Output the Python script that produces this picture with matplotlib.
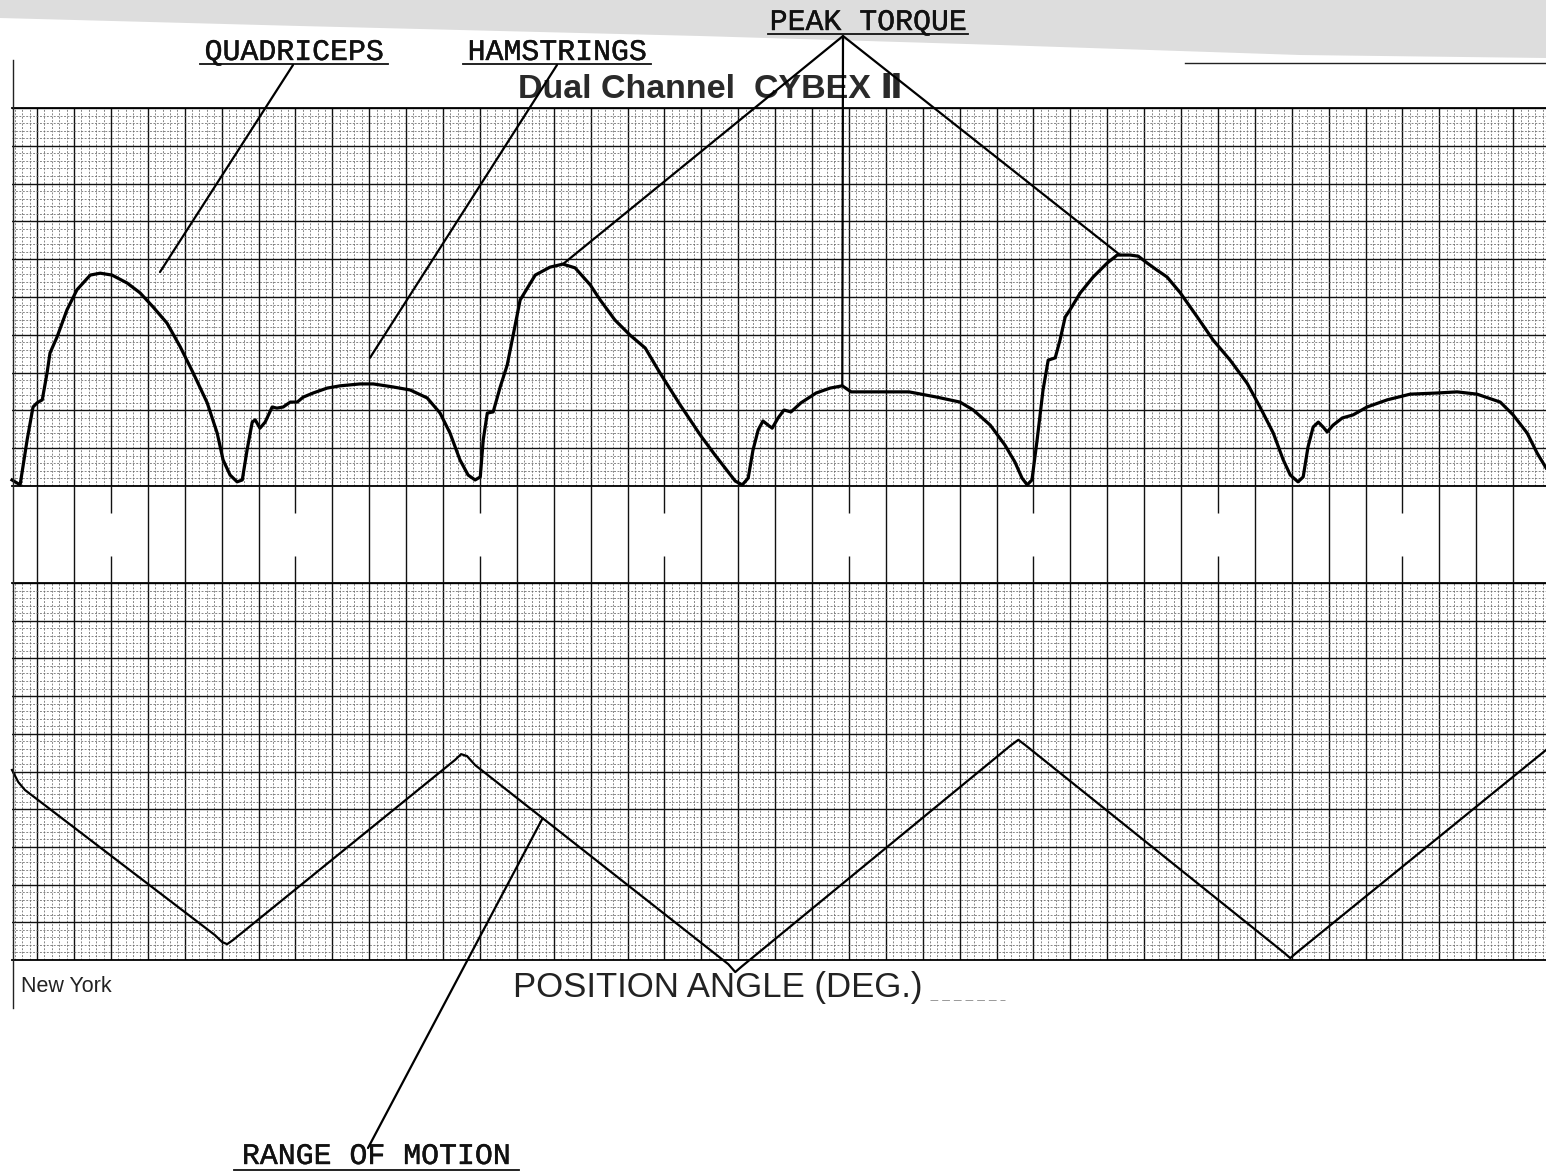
import numpy as np
import matplotlib
matplotlib.use("Agg")
import matplotlib.pyplot as plt
import matplotlib.patheffects as pe

# torque trace (top panel): x in major chart divisions, y in divisions above baseline
torque_x = [-0.68, -0.46, -0.27, -0.11, 0.00, 0.14, 0.27, 0.35, 0.54, 0.81, 1.08, 1.44, 1.71,
            2.03, 2.44, 2.79, 3.14, 3.52, 3.88, 4.23, 4.61, 4.88, 5.04, 5.23, 5.42, 5.56,
            5.69, 5.83, 5.91, 6.04, 6.18, 6.37, 6.50, 6.67, 6.86, 7.05, 7.21, 7.48, 7.86,
            8.21, 8.75, 9.11, 9.65, 10.11, 10.57, 10.92, 11.19, 11.46, 11.68, 11.87, 12.01,
            12.09, 12.20, 12.36, 12.55, 12.74, 13.09, 13.50, 13.90, 14.25, 14.58, 14.99,
            15.26, 15.66, 16.07, 16.48, 16.88, 17.43, 17.97, 18.37, 18.73, 18.92, 19.11,
            19.27, 19.40, 19.54, 19.67, 19.81, 19.92, 20.08, 20.24, 20.43, 20.70, 21.11,
            21.49, 21.82, 22.06, 22.57, 23.63, 24.39, 25.01, 25.37, 25.83, 26.23, 26.50,
            26.69, 26.83, 26.96, 27.10, 27.26, 27.40, 27.59, 27.72, 27.86, 27.99, 28.27,
            28.62, 29.00, 29.27, 29.62, 29.84, 30.08, 30.35, 30.62, 30.98, 31.44, 31.87,
            32.33, 32.79, 33.14, 33.50, 33.77, 33.96, 34.17, 34.31, 34.44, 34.58, 34.72,
            34.85, 34.96, 35.12, 35.37, 35.66, 36.04, 36.59, 37.21, 37.94, 38.48, 39.02,
            39.65, 40.00, 40.38, 40.65, 40.89]
torque_y = [0.16, 0.03, 1.22, 2.09, 2.20, 2.28, 2.99, 3.52, 3.94, 4.66, 5.19, 5.58, 5.63,
            5.58, 5.37, 5.11, 4.74, 4.31, 3.68, 2.99, 2.20, 1.40, 0.69, 0.29, 0.11, 0.16,
            0.95, 1.69, 1.75, 1.53, 1.69, 2.09, 2.06, 2.09, 2.22, 2.22, 2.35, 2.46, 2.59,
            2.65, 2.70, 2.70, 2.62, 2.54, 2.33, 1.93, 1.40, 0.69, 0.29, 0.16, 0.24,
            1.22, 1.93, 1.96, 2.62, 3.20, 4.92, 5.58, 5.79, 5.87, 5.77, 5.32,
            4.92, 4.39, 3.99, 3.65, 2.99, 2.14, 1.35, 0.82, 0.37, 0.13, 0.03,
            0.21, 0.95, 1.48, 1.72, 1.61, 1.53, 1.80, 2.01, 1.96, 2.20, 2.46,
            2.59, 2.65, 2.49, 2.49, 2.49, 2.35, 2.22, 2.01, 1.61, 1.08, 0.63,
            0.21, 0.03, 0.16, 1.22, 2.54, 3.33, 3.39, 3.86, 4.47, 4.66, 5.11,
            5.53, 5.90, 6.11, 6.11, 6.08, 5.90, 5.71, 5.53, 5.11, 4.47, 3.86,
            3.33, 2.72, 2.09, 1.40, 0.69, 0.29, 0.11, 0.24, 1.03, 1.56, 1.69,
            1.56, 1.43, 1.61, 1.80, 1.88, 2.09, 2.28, 2.43, 2.46, 2.49, 2.43,
            2.22, 1.88, 1.40, 0.87, 0.48]

# range of motion trace (bottom panel)
rom_x = [-0.68, -0.51, -0.33, 4.82, 5.01, 5.15, 5.31, 11.33, 11.49, 11.65, 11.87,
         18.73, 18.92, 19.11, 26.37, 26.59, 26.78, 33.77, 33.96, 34.15, 40.89]
rom_y = [5.04, 4.72, 4.51, 0.66, 0.48, 0.42, 0.53, 5.31, 5.46, 5.41, 5.17,
         -0.11, -0.32, -0.16, 5.68, 5.84, 5.70, 0.21, 0.05, 0.21, 5.57]

# where the leader lines touch the traces
quad_tip = (3.33, 5.66)
ham_tip = (9.02, 3.39)
peak_x = [14.25, 21.82, 29.35]
rom_tip_x = 13.7

W, H = 1546, 1176
X0, X1 = -0.68, 40.89

fig = plt.figure(figsize=(W / 100, H / 100), dpi=100)
fig.patch.set_facecolor("white")


def fig_box(left, top, right, bottom):
    return [left / W, 1 - bottom / H, (right - left) / W, (bottom - top) / H]


def paper_grid(ax):
    ax.set_xlim(X0, X1)
    ax.set_ylim(0, 10)
    ax.set_xticks(np.arange(0, 41))
    ax.set_xticks(np.arange(-0.6, 41, 0.2), minor=True)
    ax.set_yticks(np.arange(0, 11))
    ax.set_yticks(np.arange(0, 10.01, 0.2), minor=True)
    ax.grid(which="minor", color="#666666", lw=0.55, ls=(0, (2.5, 2)))
    ax.grid(which="major", color="#111111", lw=1.0)
    ax.tick_params(which="both", length=0, labelbottom=False, labelleft=False)
    for side in ["top", "bottom"]:
        ax.spines[side].set_linewidth(1.3)
    ax.spines["right"].set_visible(False)
    ax.spines["left"].set_visible(False)
    ax.set_axisbelow(True)


ax_top = fig.add_axes(fig_box(12, 108, 1546, 486))
paper_grid(ax_top)
ax_top.plot(torque_x, torque_y, color="black", lw=2.3, solid_joinstyle="round",
            clip_on=False, zorder=3)

ax_bot = fig.add_axes(fig_box(12, 583, 1546, 960))
paper_grid(ax_bot)
ax_bot.plot(rom_x, rom_y, color="black", lw=1.6, solid_joinstyle="round",
            clip_on=False, zorder=3)

# blank strip between the two channels, only the major lines
ax_mid = fig.add_axes(fig_box(12, 486, 1546, 583))
ax_mid.set_xlim(X0, X1)
ax_mid.set_ylim(0, 1)
ax_mid.set_axis_off()
ks = np.arange(0, 41)
full = ks[ks % 5 != 2]
stub = ks[ks % 5 == 2]
ax_mid.vlines(full, 0, 1, color="#111111", lw=1.0)
ax_mid.vlines(stub, 0.0, 0.28, color="#111111", lw=1.0)
ax_mid.vlines(stub, 0.72, 1.0, color="#111111", lw=1.0)

# overlay in pixel space for printed text and hand drawn labels
ov = fig.add_axes([0, 0, 1, 1], zorder=10)
ov.set_xlim(0, W)
ov.set_ylim(H, 0)
ov.set_axis_off()

band_x = np.array([0, 300, 700, 1000, 1300, 1546])
band_y = np.array([18, 26, 36, 45, 55, 58])
ov.fill_between(band_x, 0, band_y, color="#dddddd", lw=0)
ov.plot([12.5, 12.5], [60, 1008], color="#222222", lw=1.0)
ov.plot([1185, 1546], [63, 63], color="#222222", lw=1.0)
ov.plot([930, 1005], [1000, 1000], color="#999999", lw=0.7, ls=(0, (8, 4)))

mono = "Liberation Mono"
thick = [pe.withStroke(linewidth=0.3, foreground="#111111")]
labels = [("QUADRICEPS", 294, 60, 200, 388, 64),
          ("HAMSTRINGS", 557, 60, 463, 651, 64),
          ("PEAK TORQUE", 868, 30, 768, 968, 34),
          ("RANGE OF MOTION", 376, 1164, 234, 519, 1170)]
for txt, cx, base, u0, u1, uy in labels:
    ov.text(cx, base, txt, family=mono, fontsize=21.5, ha="center", va="baseline",
            color="#111111", path_effects=thick)
    ov.plot([u0, u1], [uy, uy], color="#111111", lw=1.3)

ov.text(518, 98, "Dual Channel  CYBEX Ⅱ", family=["Liberation Sans", "DejaVu Sans"],
        fontsize=24.5, fontweight="bold", ha="left", va="baseline", color="#2a2a2a")
ov.text(21, 992, "New York", family="Liberation Sans", fontsize=15.5, ha="left",
        va="baseline", color="#222222")
ov.text(513, 997, "POSITION ANGLE (DEG.)", family="Liberation Sans", fontsize=25,
        ha="left", va="baseline", color="#222222")

# leader lines from the labels to the traces
lead = dict(arrowstyle="-", lw=1.6, color="black", shrinkA=0, shrinkB=0)
ov.annotate("", xy=quad_tip, xycoords=ax_top.transData, xytext=(293, 65),
            textcoords="data", arrowprops=lead, annotation_clip=False)
ov.annotate("", xy=ham_tip, xycoords=ax_top.transData, xytext=(557, 65),
            textcoords="data", arrowprops=lead, annotation_clip=False)
for px in peak_x:
    py = np.interp(px, torque_x, torque_y)
    ov.annotate("", xy=(px, py), xycoords=ax_top.transData, xytext=(843, 36),
                textcoords="data", arrowprops=lead, annotation_clip=False)
ov.annotate("", xy=(rom_tip_x, np.interp(rom_tip_x, rom_x, rom_y)),
            xycoords=ax_bot.transData, xytext=(368, 1148), textcoords="data",
            arrowprops=lead, annotation_clip=False)

fig.savefig("out.png", dpi=100, facecolor="white")
